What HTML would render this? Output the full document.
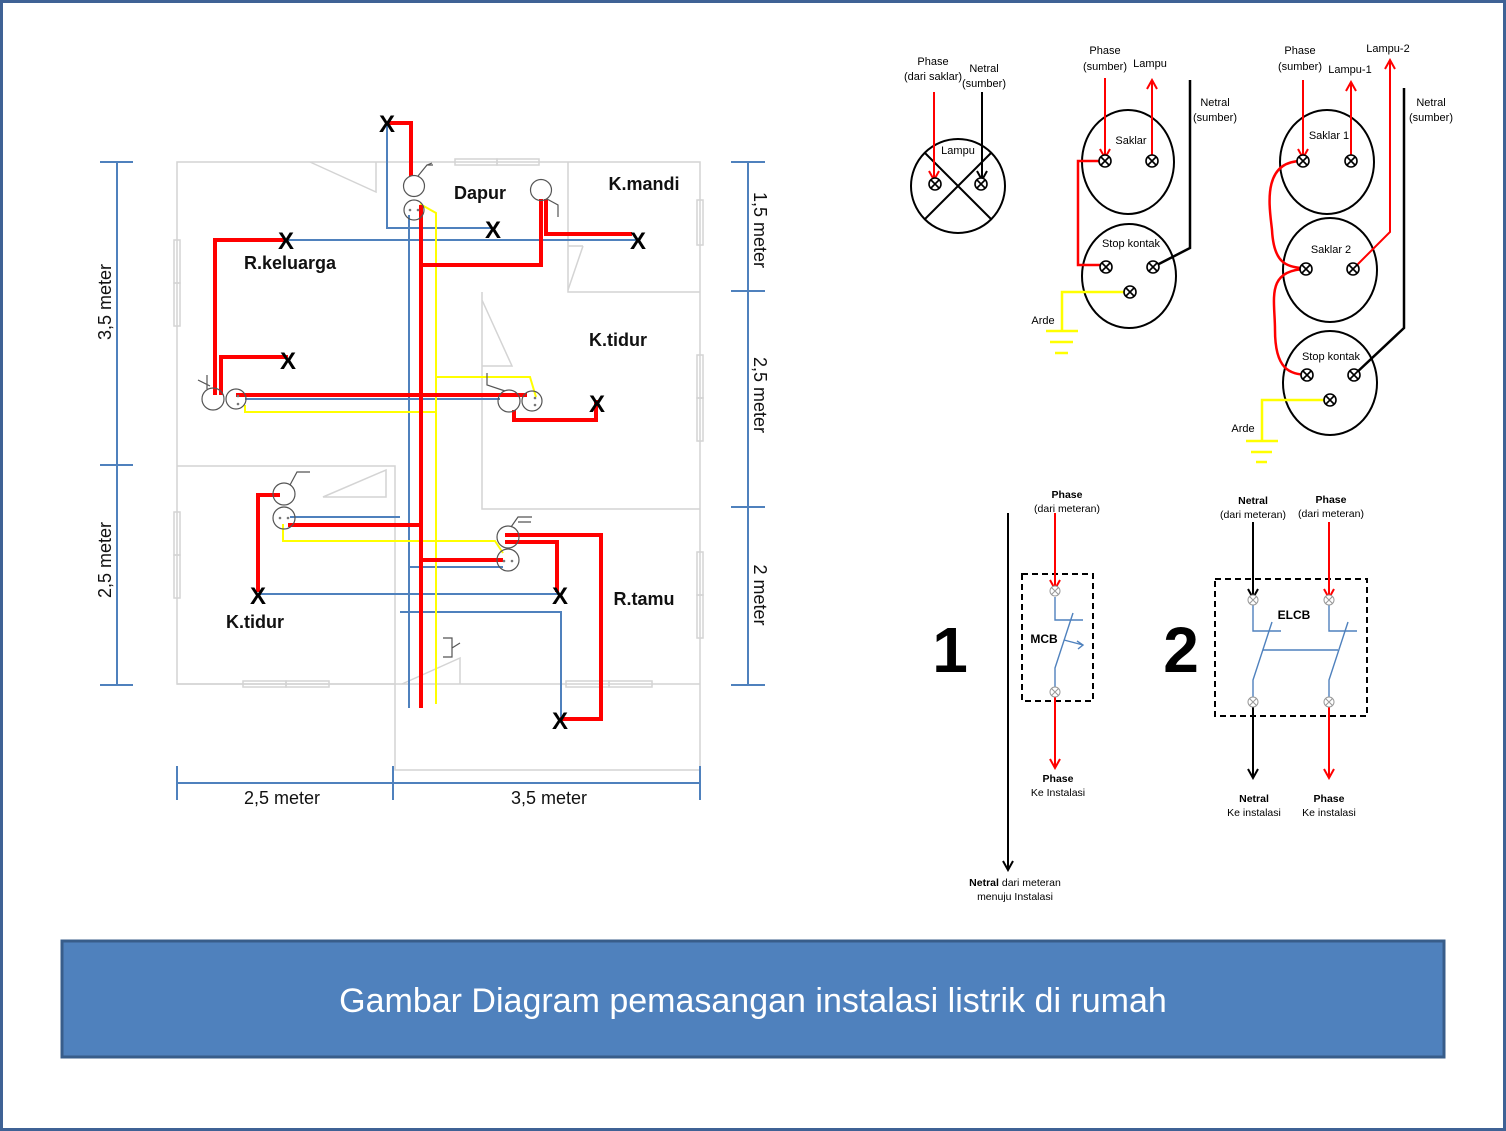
<!DOCTYPE html>
<html><head><meta charset="utf-8"><style>
html,body{margin:0;padding:0;background:#fff}
svg{display:block}
text{font-family:"Liberation Sans",sans-serif}
</style></head><body>
<svg width="1506" height="1131" viewBox="0 0 1506 1131" xmlns="http://www.w3.org/2000/svg">
<defs>
<marker id="ar" markerWidth="12" markerHeight="12" refX="10" refY="6" orient="auto" markerUnits="userSpaceOnUse"><path d="M1,1 L10,6 L1,11" fill="none" stroke="red" stroke-width="2"/></marker>
<marker id="ab" markerWidth="12" markerHeight="12" refX="10" refY="6" orient="auto" markerUnits="userSpaceOnUse"><path d="M1,1 L10,6 L1,11" fill="none" stroke="#000" stroke-width="2"/></marker>
<g id="tx"><circle r="6" fill="#fff" stroke="#000" stroke-width="1.6"/><path d="M-4,-4 L4,4 M4,-4 L-4,4" stroke="#000" stroke-width="1.6"/></g>
<g id="tg"><circle r="5" fill="#fff" stroke="#999" stroke-width="1"/><path d="M-3.5,-3.5 L3.5,3.5 M3.5,-3.5 L-3.5,3.5" stroke="#999" stroke-width="1"/></g>
</defs>
<rect x="1.5" y="1.5" width="1503" height="1128" fill="#fff" stroke="#3f6295" stroke-width="3"/>

<!-- floor plan walls -->
<g fill="none" stroke="#d4d4d4" stroke-width="1.5">
<path d="M177,162 H700 V770 H395 V684 H177 Z"/>
<path d="M177,684 H700"/>
<path d="M568,162 V292 H700"/>
<path d="M482,292 V509 H700"/>
<path d="M177,466 H395 V684"/>
<path d="M310,162 L376,192 V162"/>
<path d="M583,246 L568,290 M568,246 H583"/>
<path d="M482,300 L512,366 H482"/>
<path d="M323,497 L386,470 V497 Z"/>
<path d="M402,684 L460,658 V684"/>
<rect x="455" y="159" width="42" height="6"/><rect x="497" y="159" width="42" height="6"/>
<rect x="174" y="240" width="6" height="43"/><rect x="174" y="283" width="6" height="43"/>
<rect x="697" y="200" width="6" height="45"/>
<rect x="697" y="355" width="6" height="43"/><rect x="697" y="398" width="6" height="43"/>
<rect x="174" y="512" width="6" height="43"/><rect x="174" y="555" width="6" height="43"/>
<rect x="697" y="552" width="6" height="43"/><rect x="697" y="595" width="6" height="43"/>
<rect x="243" y="681" width="43" height="6"/><rect x="286" y="681" width="43" height="6"/>
<rect x="566" y="681" width="43" height="6"/><rect x="609" y="681" width="43" height="6"/>
</g>

<!-- blue wires -->
<g fill="none" stroke="#4f81bd" stroke-width="2">
<path d="M387,122 V228 H493"/>
<path d="M409,215 V708"/>
<path d="M285,240 H637"/>
<path d="M245,399 H500"/>
<path d="M290,517 H400"/>
<path d="M409,567 H503"/>
<path d="M258,594 H559"/>
<path d="M400,612 H561 V720"/>
</g>
<!-- yellow wires -->
<g fill="none" stroke="#ffff00" stroke-width="2">
<path d="M420,204 L436,213 V704"/>
<path d="M245,405 V412 H436"/>
<path d="M436,377 H530 L536,397"/>
<path d="M283,524 V541 H495 L503,553"/>
</g>
<!-- red wires -->
<g fill="none" stroke="#ff0000" stroke-width="4">
<path d="M387,123 H411 V176"/>
<path d="M421,205 V708"/>
<path d="M541,199 V265 H421"/>
<path d="M546,199 V234 H632"/>
<path d="M285,240 H215 V395"/>
<path d="M221,395 V357 H288"/>
<path d="M236,395 H527"/>
<path d="M514,410 V420 H596 V400"/>
<path d="M280,495 H258 V592"/>
<path d="M288,525 H421"/>
<path d="M421,560 H503"/>
<path d="M505,535 H601 V719 H560"/>
<path d="M505,542 H557 V592"/>
</g>
<!-- fixtures -->
<g fill="none" stroke="#555" stroke-width="1.2">
<circle cx="414" cy="186" r="10.5"/><circle cx="414" cy="210" r="10"/>
<path d="M418,176 L427,165 H433 M427,165 L432,163"/>
<circle cx="541" cy="190" r="10.5"/><path d="M547,199 L558,205 V217"/>
<circle cx="213" cy="399" r="11"/><circle cx="236" cy="399" r="10"/>
<path d="M207,389 V375 M210,386 L198,380"/>
<circle cx="509" cy="401" r="11"/><circle cx="532" cy="401" r="10"/>
<path d="M505,391 L487,385 V373"/>
<circle cx="284" cy="494" r="11"/><circle cx="284" cy="518" r="11"/>
<path d="M290,485 L297,472 H310"/>
<circle cx="508" cy="537" r="11"/><circle cx="508" cy="560" r="11"/>
<path d="M511,527 L518,517 H532 M518,522 H531"/>
<path d="M443,638 H452 V657 H443 M452,648 L460,643"/>
</g>
<g fill="#777"><circle cx="410" cy="210" r="1.3"/><circle cx="418" cy="210" r="1.3"/><circle cx="238" cy="396" r="1.3"/><circle cx="238" cy="404" r="1.3"/><circle cx="535" cy="398" r="1.3"/><circle cx="535" cy="405" r="1.3"/><circle cx="280" cy="518" r="1.3"/><circle cx="288" cy="518" r="1.3"/><circle cx="504" cy="561" r="1.3"/><circle cx="512" cy="561" r="1.3"/></g>
<!-- X marks -->
<g font-size="24" font-weight="bold" fill="#000" text-anchor="middle">
<text x="387" y="132">X</text><text x="493" y="238">X</text><text x="286" y="249">X</text><text x="638" y="249">X</text>
<text x="288" y="369">X</text><text x="597" y="412">X</text><text x="258" y="604">X</text><text x="560" y="604">X</text><text x="560" y="729">X</text>
</g>
<g font-size="18" font-weight="bold" fill="#111" text-anchor="middle">
<text x="480" y="199">Dapur</text><text x="644" y="190">K.mandi</text><text x="290" y="269">R.keluarga</text>
<text x="618" y="346">K.tidur</text><text x="255" y="628">K.tidur</text><text x="644" y="605">R.tamu</text>
</g>

<!-- dimensions -->
<g stroke="#4f81bd" stroke-width="2" fill="none">
<path d="M117,162 V685 M100,162 H133 M100,465 H133 M100,685 H133"/>
<path d="M748,162 V685 M731,162 H765 M731,291 H765 M731,507 H765 M731,685 H765"/>
<path d="M177,783 H700 M177,766 V800 M393,766 V800 M700,766 V800"/>
</g>
<g font-size="18" fill="#111" text-anchor="middle">
<text transform="translate(111,302) rotate(-90)">3,5 meter</text>
<text transform="translate(111,560) rotate(-90)">2,5 meter</text>
<text transform="translate(754,230) rotate(90)">1,5 meter</text>
<text transform="translate(754,395) rotate(90)">2,5 meter</text>
<text transform="translate(754,595) rotate(90)">2 meter</text>
<text x="282" y="804">2,5 meter</text><text x="549" y="804">3,5 meter</text>
</g>

<!-- right diagrams top -->
<g fill="none" stroke="#000" stroke-width="2">
<circle cx="958" cy="186" r="47"/>
<path d="M925,153 L991,219 M991,153 L925,219"/>
<ellipse cx="1128" cy="162" rx="46" ry="52"/>
<ellipse cx="1129" cy="276" rx="47" ry="52"/>
<ellipse cx="1327" cy="162" rx="47" ry="52"/>
<ellipse cx="1330" cy="270" rx="47" ry="52"/>
<ellipse cx="1330" cy="383" rx="47" ry="52"/>
<path d="M982,92 V180" marker-end="url(#ab)"/>
<path d="M1190,80 V248 L1153,267" stroke-width="2.5"/>
<path d="M1404,88 V328 L1354,375" stroke-width="2.5"/>
</g>
<g fill="none" stroke="#ff0000" stroke-width="2">
<path d="M934,92 V180" marker-end="url(#ar)"/>
<path d="M1105,78 V158" marker-end="url(#ar)"/>
<path d="M1152,160 V80" marker-end="url(#ar)"/>
<path d="M1100,161 H1078 V265 H1106" stroke-width="2.5"/>
<path d="M1303,80 V158" marker-end="url(#ar)"/>
<path d="M1351,161 V82" marker-end="url(#ar)"/>
<path d="M1353,269 L1390,232 V60" marker-end="url(#ar)"/>
<path d="M1303,161 C1260,160 1270,210 1272,230 C1274,268 1290,266 1306,269" stroke-width="2.5"/>
<path d="M1306,269 C1265,270 1275,300 1275,330 C1275,370 1290,374 1307,375" stroke-width="2.5"/>
</g>
<g fill="none" stroke="#ffff00" stroke-width="2.5">
<path d="M1130,292 H1062 V330 M1046,331 H1078 M1050,342 H1073 M1055,353 H1068"/>
<path d="M1330,400 H1262 V440 M1246,441 H1278 M1251,452 H1272 M1256,462 H1267"/>
</g>
<use href="#tx" x="935" y="184"/><use href="#tx" x="981" y="184"/>
<use href="#tx" x="1105" y="161"/><use href="#tx" x="1152" y="161"/>
<use href="#tx" x="1106" y="267"/><use href="#tx" x="1153" y="267"/><use href="#tx" x="1130" y="292"/>
<use href="#tx" x="1303" y="161"/><use href="#tx" x="1351" y="161"/>
<use href="#tx" x="1306" y="269"/><use href="#tx" x="1353" y="269"/>
<use href="#tx" x="1307" y="375"/><use href="#tx" x="1354" y="375"/><use href="#tx" x="1330" y="400"/>
<g font-size="11" fill="#000" text-anchor="middle">
<text x="933" y="65">Phase</text><text x="933" y="80">(dari saklar)</text>
<text x="984" y="72">Netral</text><text x="984" y="87">(sumber)</text>
<text x="958" y="154">Lampu</text>
<text x="1105" y="54">Phase</text><text x="1105" y="70">(sumber)</text><text x="1150" y="67">Lampu</text>
<text x="1215" y="106">Netral</text><text x="1215" y="121">(sumber)</text>
<text x="1131" y="144">Saklar</text><text x="1131" y="247">Stop kontak</text><text x="1043" y="324">Arde</text>
<text x="1300" y="54">Phase</text><text x="1300" y="70">(sumber)</text><text x="1350" y="73">Lampu-1</text><text x="1388" y="52">Lampu-2</text>
<text x="1431" y="106">Netral</text><text x="1431" y="121">(sumber)</text>
<text x="1329" y="139">Saklar 1</text><text x="1331" y="253">Saklar 2</text><text x="1331" y="360">Stop kontak</text><text x="1243" y="432">Arde</text>
</g>

<!-- MCB / ELCB -->
<text x="950" y="672" font-size="64" font-weight="bold" text-anchor="middle" fill="#000">1</text>
<text x="1181" y="672" font-size="64" font-weight="bold" text-anchor="middle" fill="#000">2</text>
<g fill="none" stroke="#000" stroke-width="2">
<path d="M1008,513 V870" marker-end="url(#ab)"/>
<rect x="1022" y="574" width="71" height="127" stroke-dasharray="6,4"/>
<rect x="1215" y="579" width="152" height="137" stroke-dasharray="6,4"/>
<path d="M1253,522 V598" marker-end="url(#ab)"/>
<path d="M1253,707 V778" marker-end="url(#ab)"/>
</g>
<g fill="none" stroke="#ff0000" stroke-width="2">
<path d="M1055,513 V589" marker-end="url(#ar)"/>
<path d="M1055,697 V768" marker-end="url(#ar)"/>
<path d="M1329,522 V598" marker-end="url(#ar)"/>
<path d="M1329,707 V778" marker-end="url(#ar)"/>
</g>
<g fill="none" stroke="#4f81bd" stroke-width="1.4">
<path d="M1055,597 V620 H1083 M1073,613 L1055,668 V688 M1064,640 L1083,645 M1077,641 L1083,645 L1078,649"/>
<path d="M1253,605 V631 H1281 M1272,622 L1253,680 V697"/>
<path d="M1329,605 V631 H1357 M1348,622 L1329,680 V697"/>
<path d="M1263,650 H1338"/>
</g>
<use href="#tg" x="1055" y="591"/><use href="#tg" x="1055" y="692"/>
<use href="#tg" x="1253" y="600"/><use href="#tg" x="1329" y="600"/>
<use href="#tg" x="1253" y="702"/><use href="#tg" x="1329" y="702"/>
<g font-size="10.5" fill="#000" text-anchor="middle">
<text x="1067" y="498" font-weight="bold">Phase</text><text x="1067" y="512">(dari meteran)</text>
<text x="1044" y="643" font-weight="bold" font-size="12">MCB</text>
<text x="1058" y="782" font-weight="bold">Phase</text><text x="1058" y="796">Ke Instalasi</text>
<text x="1015" y="886"><tspan font-weight="bold">Netral</tspan> dari meteran</text><text x="1015" y="900">menuju Instalasi</text>
<text x="1253" y="504" font-weight="bold">Netral</text><text x="1253" y="518">(dari meteran)</text>
<text x="1331" y="503" font-weight="bold">Phase</text><text x="1331" y="517">(dari meteran)</text>
<text x="1294" y="619" font-weight="bold" font-size="12">ELCB</text>
<text x="1254" y="802" font-weight="bold">Netral</text><text x="1254" y="816">Ke instalasi</text>
<text x="1329" y="802" font-weight="bold">Phase</text><text x="1329" y="816">Ke instalasi</text>
</g>

<!-- banner -->
<rect x="62" y="941" width="1382" height="116" fill="#4f81bd" stroke="#385d8a" stroke-width="3"/>
<text x="753" y="1012" font-size="34" fill="#fff" text-anchor="middle">Gambar Diagram pemasangan instalasi listrik di rumah</text>
</svg>
</body></html>
